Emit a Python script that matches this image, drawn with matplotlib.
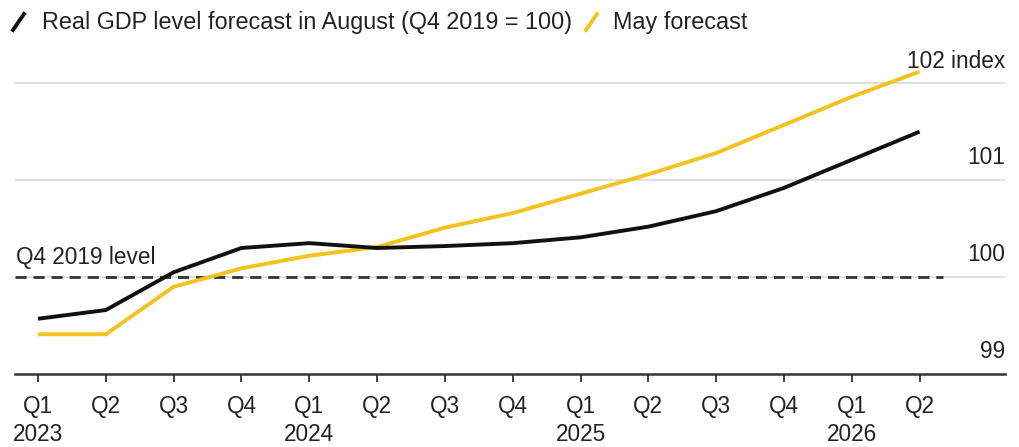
import numpy as np
import matplotlib
matplotlib.use('Agg')
import matplotlib.pyplot as plt
from matplotlib.lines import Line2D

plt.rcParams['font.family'] = ['Liberation Sans', 'DejaVu Sans']

quarters = ['Q1\n2023', 'Q2', 'Q3', 'Q4', 'Q1\n2024', 'Q2', 'Q3', 'Q4',
            'Q1\n2025', 'Q2', 'Q3', 'Q4', 'Q1\n2026', 'Q2']
august = [99.57, 99.66, 100.05, 100.30, 100.35, 100.30, 100.32, 100.35,
          100.41, 100.52, 100.68, 100.92, 101.21, 101.50]
may = [99.41, 99.41, 99.90, 100.09, 100.22, 100.31, 100.51, 100.66,
       100.86, 101.06, 101.28, 101.57, 101.86, 102.12]
grid_levels = [99, 100, 101, 102]
grid_labels = ['99', '100', '101', '102 index']

W, H = 1020, 447
fig = plt.figure(figsize=(W / 100, H / 100), dpi=100)
ax = fig.add_axes([15 / W, (H - 374) / H, 990 / W, 315 / H])

TXT = '#222222'
YEL = '#f4c21e'
FS = 16.3
x = np.arange(len(quarters))

for lv, lb in zip(grid_levels, grid_labels):
    if lv != 99:
        ax.axhline(lv, color='#dddddd', lw=1.3, zorder=1)
    ax.text(1.0, lv + 0.11, lb, transform=ax.get_yaxis_transform(),
            ha='right', va='bottom', fontsize=FS, color=TXT)

# Q4 2019 reference level
ax.plot([-0.34, 13.35], [100, 100], color='#333333', lw=2, ls=(0, (4, 2.5)), zorder=2)
ax.text(-0.34 + 0.02, 100.08, 'Q4 2019 level', ha='left', va='bottom', fontsize=FS, color=TXT)

ax.plot(x, may, color=YEL, lw=2.8, solid_capstyle='butt', zorder=3)
ax.plot(x, august, color='#111111', lw=2.8, solid_capstyle='butt', zorder=4)

ax.set_xlim(-0.34, 14.26)
ax.set_ylim(99, 102.25)
ax.set_xticks(x)
ax.set_xticklabels(quarters, fontsize=FS, color=TXT, linespacing=1.3)
ax.tick_params(axis='x', length=6, width=1.3, color='#333333', pad=9)
ax.set_yticks([])
for s in ['top', 'right', 'left']:
    ax.spines[s].set_visible(False)
ax.spines['bottom'].set_color('#333333')
ax.spines['bottom'].set_linewidth(1.8)

# legend drawn at the top
def px(xp, yp):
    return xp / W, 1 - yp / H

for (x0, y0, x1, y1), col in [((13, 30, 24, 14), '#111111'), ((586, 30, 597, 14), YEL)]:
    a, b = px(x0, y0)
    c, d = px(x1, y1)
    fig.add_artist(Line2D([a, c], [b, d], color=col, lw=2.8, transform=fig.transFigure))
fig.text(*px(42, 22), 'Real GDP level forecast in August (Q4 2019 = 100)',
         ha='left', va='center', fontsize=16.8, color=TXT)
fig.text(*px(613, 22), 'May forecast', ha='left', va='center', fontsize=16.8, color=TXT)

fig.savefig('out.png', dpi=100)
